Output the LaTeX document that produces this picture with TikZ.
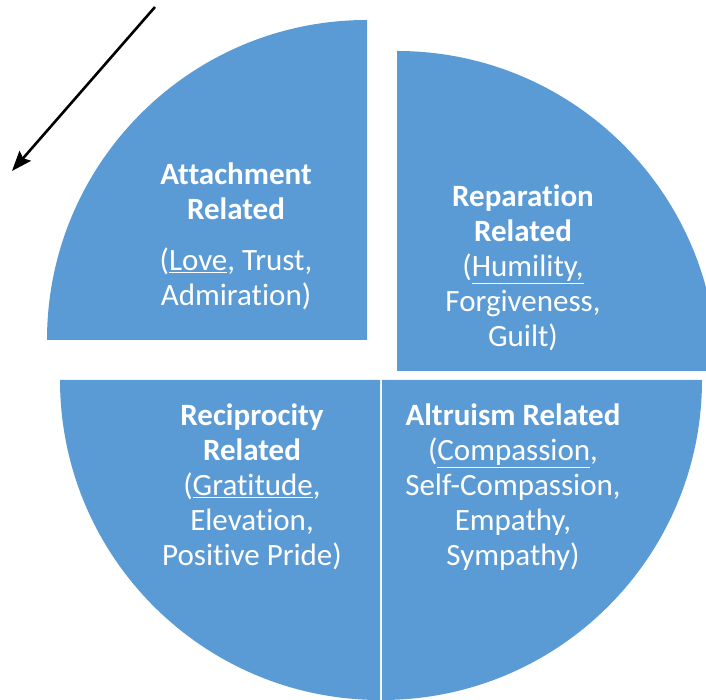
\documentclass[tikz,border=0pt]{standalone}
\usepackage{fontspec}
\setmainfont[Ligatures=NoCommon]{Carlito}
\usetikzlibrary{arrows.meta}
\definecolor{pieblue}{HTML}{5B9BD5}

\begin{document}
\begin{tikzpicture}[x=1pt, y=1pt,
		quarter/.style={fill=pieblue, draw=none},
		label/.style={text=white, align=center, inner sep=0pt, font=\fontsize{31}{35}\selectfont}]
				\useasboundingbox (0,0) rectangle (706,700);
				\clip (0,0) rectangle (706,700);

				% Quarters
				\fill[quarter] (367,360) -- (47,360) arc[start angle=180, end angle=90, radius=320] -- cycle;
				\fill[quarter] (397,329) -- (397,649) arc[start angle=90, end angle=0, radius=320] -- cycle;
				\fill[quarter] (380,320) -- (60,320) arc[start angle=180, end angle=270, radius=320] -- cycle;
				\fill[quarter] (382,320) -- (382,0) arc[start angle=270, end angle=360, radius=320] -- cycle;

				% Labels
				\node[label] (attachment) at (236,464) {\textbf{Attachment}\\\textbf{Related}\\[16pt](\underline{Love}, Trust,\\Admiration)};
				\node[label] (reparation) at (523,432) {\textbf{Reparation}\\\textbf{Related}\\(\underline{Humility,}\\Forgiveness,\\Guilt)};
				\node[label] (reciprocity) at (252,213) {\textbf{Reciprocity}\\\textbf{Related}\\(\underline{Gratitude},\\Elevation,\\Positive Pride)};
				\node[label] (altruism) at (513,213) {\textbf{Altruism Related}\\(\underline{Compassion},\\Self-Compassion,\\Empathy,\\Sympathy)};

				% Arrow
				\coordinate (arrowstart) at (155,693);
				\coordinate (arrowend) at (12,529);
				\draw[-{Stealth[length=20pt, width=15pt, inset=3pt]}, line width=2.6pt] (arrowstart) -- (arrowend);
\end{tikzpicture}
\end{document}
